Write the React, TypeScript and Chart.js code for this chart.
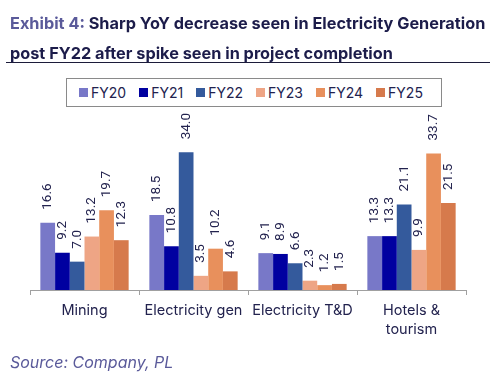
import React, { useEffect, useRef } from "react";
import { Chart, registerables } from "chart.js";

Chart.register(...registerables);

const categories: (string | string[])[] = ["Mining", "Electricity gen", "Electricity T&D", ["Hotels &", "tourism"]];
const seriesNames = ["FY20", "FY21", "FY22", "FY23", "FY24", "FY25"];
const fy20 = [16.6, 18.5, 9.1, 13.3];
const fy21 = [9.2, 10.8, 8.9, 13.3];
const fy22 = [7.0, 34.0, 6.6, 21.1];
const fy23 = [13.2, 3.5, 2.3, 9.9];
const fy24 = [19.7, 10.2, 1.2, 33.7];
const fy25 = [12.3, 4.6, 1.5, 21.5];
const seriesValues = [fy20, fy21, fy22, fy23, fy24, fy25];
const colors = ["#7878c8", "#0000a0", "#345a9c", "#eea585", "#e8905c", "#d67a4c"];

const FONT = "Inter, 'Open Sans', sans-serif";
const LABEL_FONT = "Roboto, 'Open Sans', sans-serif";
const NAVY = "#22224e";

const labelPlugin = {
  id: "barLabels",
  afterDatasetsDraw(chart: any) {
    const ctx = chart.ctx;
    ctx.save();
    ctx.font = `13.5px ${LABEL_FONT}`;
    ctx.fillStyle = NAVY;
    ctx.textAlign = "left";
    ctx.textBaseline = "middle";
    chart.data.datasets.forEach((ds: any, i: number) => {
      const meta = chart.getDatasetMeta(i);
      meta.data.forEach((el: any, j: number) => {
        const v = ds.data[j] as number;
        ctx.save();
        ctx.translate(el.x, el.y - 13);
        ctx.rotate(-Math.PI / 2);
        ctx.fillText(v.toFixed(1), 0, 0);
        ctx.restore();
      });
    });
    ctx.restore();
  },
};

function BarChart() {
  const ref = useRef<HTMLCanvasElement>(null);
  useEffect(() => {
    if (!ref.current) return;
    const chart = new Chart(ref.current, {
      type: "bar",
      data: {
        labels: categories,
        datasets: seriesNames.map((name, i) => ({
          label: name,
          data: seriesValues[i],
          backgroundColor: colors[i],
          borderWidth: 0,
          categoryPercentage: 0.81,
          barPercentage: 1,
        })),
      },
      options: {
        animation: false,
        responsive: false,
        maintainAspectRatio: false,
        layout: { padding: { left: 30, right: 31, top: 128, bottom: 0 } },
        plugins: { legend: { display: false }, tooltip: { enabled: false } },
        scales: {
          y: { display: false, min: 0, max: 40 },
          x: {
            afterFit: (scale: any) => {
              scale.height = 88;
            },
            grid: {
              offset: true,
              drawOnChartArea: false,
              drawTicks: true,
              tickLength: 5,
              color: "#a0a0a0",
            },
            border: { display: true, color: "#a0a0a0", width: 1 },
            ticks: {
              color: NAVY,
              font: { family: FONT, size: 14.5, lineHeight: 1.3 },
              padding: 6,
              maxRotation: 0,
              autoSkip: false,
            },
          },
        },
      },
      plugins: [labelPlugin],
    });
    return () => chart.destroy();
  }, []);
  return <canvas ref={ref} width={497} height={378} style={{ position: "absolute", left: 0, top: 0 }} />;
}

export default function App() {
  return (
    <div style={{ position: "absolute", left: 0, top: 0, width: 497, height: 378, background: "#fff", overflow: "hidden", fontFamily: FONT }}>
      <BarChart />
      <div style={{ position: "absolute", left: 10, top: 8, fontSize: 16.3, fontWeight: 700, lineHeight: "30px", color: "#1c1c4a", whiteSpace: "nowrap" }}>
        <div><span style={{ color: "#5a5a9a" }}>Exhibit 4:</span> Sharp YoY decrease seen in Electricity Generation</div>
        <div>post FY22 after spike seen in project completion</div>
      </div>
      <div style={{ position: "absolute", left: 6, top: 62, width: 484, height: 0, borderTop: "1.5px solid #1c1c3a" }} />
      <div style={{ position: "absolute", left: 66, top: 78, width: 362, height: 27, border: "1px solid #8a8a8a", background: "#fff", display: "flex", alignItems: "center", paddingLeft: 12, boxSizing: "content-box" }}>
        {seriesNames.map((n, i) => (
          <div key={n} style={{ display: "flex", alignItems: "center", marginRight: 13, fontSize: 14, color: NAVY }}>
            <span style={{ width: 9, height: 9, background: colors[i], display: "inline-block", marginRight: 3 }} />
            {n}
          </div>
        ))}
      </div>
      <div style={{ position: "absolute", left: 10, top: 352, fontSize: 16, fontStyle: "italic", color: "#5a5a9a" }}>Source: Company, PL</div>
    </div>
  );
}
